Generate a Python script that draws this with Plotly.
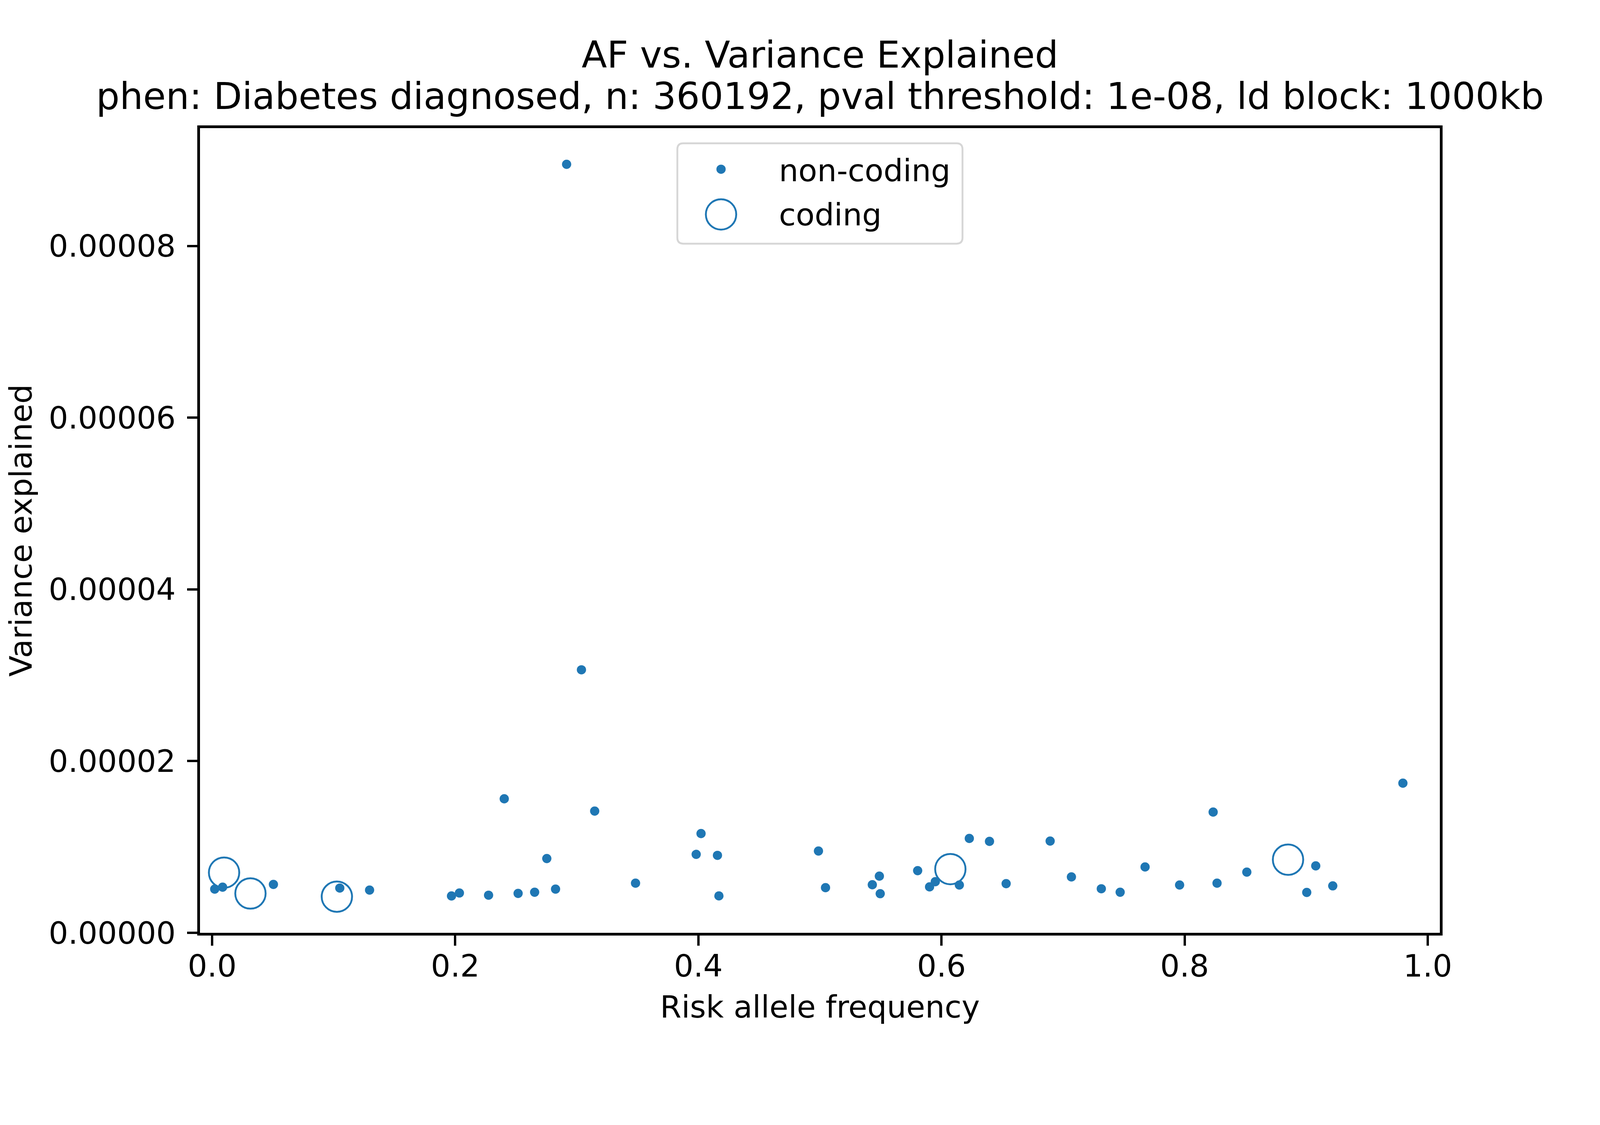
import plotly.graph_objects as go

# risk allele frequency / variance explained
noncoding_af = [0.0021, 0.0086, 0.0504, 0.1050, 0.1295, 0.1969, 0.2034, 0.2274, 0.2403, 0.2517,
                0.2653, 0.2753, 0.2825, 0.2916, 0.3038, 0.3147, 0.3483, 0.3982, 0.4022, 0.4157,
                0.4169, 0.4988, 0.5046, 0.5431, 0.5489, 0.5496, 0.5804, 0.5902, 0.5949, 0.6147,
                0.6229, 0.6395, 0.6532, 0.6894, 0.7069, 0.7315, 0.7470, 0.7675, 0.7959, 0.8235,
                0.8267, 0.8512, 0.9005, 0.9079, 0.9219, 0.9796]
noncoding_var = [5.09e-6, 5.32e-6, 5.64e-6, 5.21e-6, 4.98e-6, 4.29e-6, 4.64e-6, 4.38e-6, 15.61e-6, 4.59e-6,
                 4.73e-6, 8.65e-6, 5.09e-6, 89.51e-6, 30.63e-6, 14.18e-6, 5.78e-6, 9.14e-6, 11.56e-6, 9.02e-6,
                 4.30e-6, 9.53e-6, 5.26e-6, 5.60e-6, 6.60e-6, 4.56e-6, 7.24e-6, 5.35e-6, 5.95e-6, 5.57e-6,
                 10.99e-6, 10.65e-6, 5.73e-6, 10.69e-6, 6.51e-6, 5.13e-6, 4.73e-6, 7.67e-6, 5.57e-6, 14.06e-6,
                 5.78e-6, 7.07e-6, 4.70e-6, 7.80e-6, 5.47e-6, 17.43e-6]

coding_af = [0.0098, 0.0315, 0.1026, 0.6073, 0.8851]
coding_var = [7.01e-6, 4.58e-6, 4.21e-6, 7.42e-6, 8.52e-6]

y_ticks = [0, 0.00002, 0.00004, 0.00006, 0.00008]
x_ticks = [0.0, 0.2, 0.4, 0.6, 0.8, 1.0]

blue = "#1f77b4"
font = "DejaVu Sans"

# the page is photographed a bit larger than css pixels, work in picture pixels and convert
S = 4320 / 4096
BODY = 8


def css(p):
    return p / S - BODY


def sz(v):
    return v / S


W, H = 4080, 2714
L = css(540)
T = css(346)
R = W - css(3888)
B = H - css(2519)
pw, ph = W - L - R, H - T - B


def px_x(p):
    return (css(p) - L) / pw


def px_y(p):
    return (H - B - css(p)) / ph


fig = go.Figure()
fig.add_trace(go.Scatter(x=noncoding_af, y=noncoding_var, mode="markers", name="non-coding",
                         marker=dict(color=blue, size=sz(25), line=dict(width=0))))
fig.add_trace(go.Scatter(x=coding_af, y=coding_var, mode="markers", name="coding",
                         marker=dict(color=blue, size=sz(82), symbol="circle-open",
                                     line=dict(width=sz(5)))))

# hand-made legend so the marker sizes match the plot
lx0, lx1, ly0, ly1 = px_x(1829), px_x(2599), px_y(658), px_y(387)
rx, ry = sz(16) / pw, sz(16) / ph
legend_path = (f"M {lx0 + rx} {ly1} L {lx1 - rx} {ly1} Q {lx1} {ly1} {lx1} {ly1 - ry} "
               f"L {lx1} {ly0 + ry} Q {lx1} {ly0} {lx1 - rx} {ly0} "
               f"L {lx0 + rx} {ly0} Q {lx0} {ly0} {lx0} {ly0 + ry} "
               f"L {lx0} {ly1 - ry} Q {lx0} {ly1} {lx0 + rx} {ly1} Z")
dot_r = sz(12.5)
ring_r = sz(41)
shapes = [
    dict(type="path", xref="paper", yref="paper", path=legend_path,
         line=dict(color="#d6d6d6", width=sz(5)), fillcolor="rgba(255,255,255,0.8)"),
    dict(type="circle", xref="paper", yref="paper", xsizemode="pixel", ysizemode="pixel",
         xanchor=px_x(1947), yanchor=px_y(457), x0=-dot_r, x1=dot_r, y0=-dot_r, y1=dot_r,
         fillcolor=blue, line=dict(width=0)),
    dict(type="circle", xref="paper", yref="paper", xsizemode="pixel", ysizemode="pixel",
         xanchor=px_x(1947), yanchor=px_y(579), x0=-ring_r, x1=ring_r, y0=-ring_r, y1=ring_r,
         line=dict(color=blue, width=sz(5))),
]

title_size = sz(100)
label_size = sz(83)

annotations = [
    dict(text="AF vs. Variance Explained", x=0.5, y=px_y(148), xref="paper", yref="paper",
         showarrow=False, xanchor="center", yanchor="middle", font=dict(size=title_size)),
    dict(text="phen: Diabetes diagnosed, n: 360192, pval threshold: 1e-08, ld block: 1000kb",
         x=0.5, y=px_y(260), xref="paper", yref="paper",
         showarrow=False, xanchor="center", yanchor="middle", font=dict(size=title_size)),
    dict(text="non-coding", x=px_x(2101), y=px_y(461), xref="paper", yref="paper",
         showarrow=False, xanchor="left", yanchor="middle", font=dict(size=label_size)),
    dict(text="coding", x=px_x(2101), y=px_y(580), xref="paper", yref="paper",
         showarrow=False, xanchor="left", yanchor="middle", font=dict(size=label_size)),
]

axis_common = dict(showgrid=False, zeroline=False, showline=True, linecolor="black", linewidth=sz(7),
                   mirror=True, ticks="outside", ticklen=sz(28), tickwidth=sz(6), tickcolor="black",
                   tickfont=dict(size=label_size, color="black"))

fig.update_layout(
    width=W, height=H,
    margin=dict(l=L, r=R, t=T, b=B),
    paper_bgcolor="white", plot_bgcolor="white",
    font=dict(family=font, color="black"),
    showlegend=False,
    shapes=shapes,
    annotations=annotations,
    xaxis=dict(range=[-0.01, 1.01], tickvals=x_ticks, tickformat=".1f", ticklabelstandoff=-16,
               title=dict(text="Risk allele frequency", font=dict(size=label_size), standoff=35),
               **axis_common),
    yaxis=dict(range=[0, 0.00009372], tickvals=y_ticks, tickformat=".5f", ticklabelstandoff=13,
               title=dict(text="Variance explained", font=dict(size=label_size), standoff=34),
               **axis_common),
)

fig.write_html("out.html")
